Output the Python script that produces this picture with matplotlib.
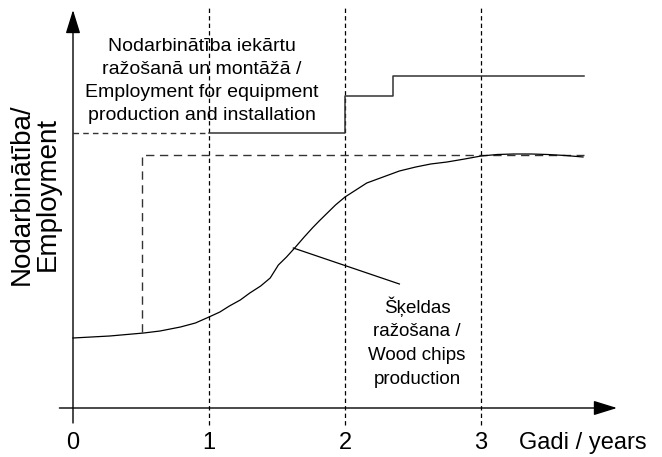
import matplotlib
matplotlib.use("Agg")
import matplotlib.pyplot as plt

plt.rcParams['font.family'] = ['Liberation Sans', 'DejaVu Sans']

# chart data (x in years, y in arbitrary employment units)
chips_years = [0, 0.27, 0.52, 0.64, 0.79, 0.90, 1.0, 1.08, 1.15, 1.23, 1.30, 1.38, 1.45,
               1.51, 1.57, 1.63, 1.70, 1.76, 1.81, 1.87, 1.93, 2.0, 2.08, 2.16, 2.28,
               2.40, 2.52, 2.63, 2.75, 2.88, 3.0, 3.12, 3.24, 3.37, 3.49, 3.62, 3.75]
chips_empl = [0.70, 0.72, 0.75, 0.77, 0.81, 0.85, 0.91, 0.96, 1.02, 1.08, 1.15, 1.22, 1.30,
              1.43, 1.51, 1.60, 1.71, 1.80, 1.87, 1.95, 2.03, 2.11, 2.18, 2.25, 2.31,
              2.37, 2.41, 2.44, 2.46, 2.49, 2.52, 2.535, 2.54, 2.54, 2.535, 2.525, 2.51]

equip_years = [1.0, 2.0, 2.35, 3.76]
equip_empl = [2.75, 3.12, 3.32, 3.32]
equip_start = 2.75  # dashed part before year 1

target_years = [0.51, 0.51, 3.76]
target_empl = [0.76, 2.53, 2.53]

year_ticks = [0, 1, 2, 3]
tick_labels = ["0", "1", "2", "3"]

label_equip = "Nodarbinātība iekārtu\nražošanā un montāžā /\nEmployment for equipment\nproduction and installation"
label_chips = "Šķeldas\nražošana /\nWood chips\nproduction"

fig = plt.figure(figsize=(6.62, 4.57), dpi=100)
ax = fig.add_axes([0, 0, 1, 1])
ax.set_xlim(-73 / 136, 589 / 136)
ax.set_ylim(-0.49, 4.08)
ax.axis('off')

# vertical year guides
for t in year_ticks[1:]:
    ax.plot([t, t], [-0.17, 4.0], color='black', lw=0.9, ls=(0, (3.5, 2.5)))

# axes with arrows
ax.annotate('', xy=(4.0, 0), xytext=(-0.10, 0),
            arrowprops=dict(arrowstyle='-|>,head_length=1.45,head_width=0.45',
                            mutation_scale=10, color='black', lw=1.0, shrinkA=0, shrinkB=0))
ax.annotate('', xy=(0, 3.98), xytext=(0, -0.15),
            arrowprops=dict(arrowstyle='-|>,head_length=1.45,head_width=0.45',
                            mutation_scale=10, color='black', lw=1.0, shrinkA=0, shrinkB=0))

# equipment employment steps
ax.plot([0, equip_years[0]], [equip_start, equip_start], color='#333333', lw=1.0, ls=(0, (4, 3)))
ax.step(equip_years, equip_empl, where='post', color='#333333', lw=1.1)

# target employment (dashed)
ax.plot(target_years, target_empl, color='#333333', lw=1.0, ls=(0, (6, 4)))

# wood chips employment curve
ax.plot(chips_years, chips_empl, color='black', lw=0.9)

# leader line for the chips label
ax.plot([1.62, 2.40], [1.60, 1.24], color='black', lw=0.9)

ax.text(0.949, 3.27, label_equip, ha='center', va='center', fontsize=14,
        linespacing=1.45)
ax.text(2.53, 0.66, label_chips, ha='center', va='center', fontsize=13.5,
        linespacing=1.5)

for t, lab in zip(year_ticks, tick_labels):
    ax.text(t, -0.35, lab, ha='center', va='center', fontsize=17)
ax.text(3.75, -0.35, "Gadi / years", ha='center', va='center', fontsize=17)

ax.text(-0.28, 2.14, "Nodarbinātība/\nEmployment", rotation=90, ha='center',
        va='center', fontsize=20, linespacing=1.0)

fig.savefig("out.png", dpi=100)
